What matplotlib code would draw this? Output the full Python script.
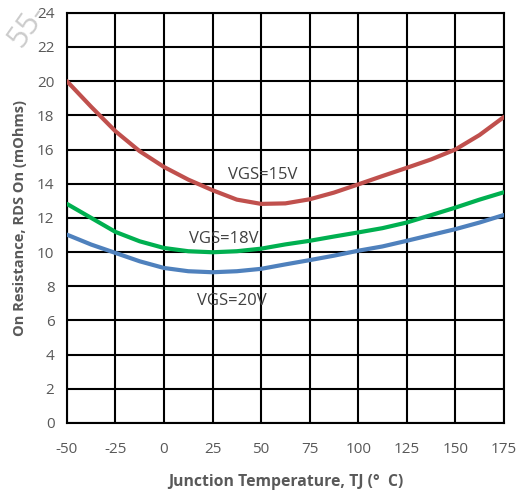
import matplotlib.pyplot as plt

# Junction temperature (deg C) and on-resistance (mOhm) per gate drive
temp = [-50, -37.5, -25, -12.5, 0, 12.5, 25, 37.5, 50, 62.5, 75, 87.5,
        100, 112.5, 125, 137.5, 150, 162.5, 175]
rds_15v = [20.0, 18.5, 17.07, 15.9, 14.98, 14.24, 13.62, 13.07, 12.82, 12.85,
           13.09, 13.48, 13.96, 14.45, 14.93, 15.42, 16.0, 16.85, 17.9]
rds_18v = [12.82, 12.0, 11.18, 10.63, 10.24, 10.05, 9.99, 10.05, 10.2, 10.45,
           10.66, 10.91, 11.15, 11.4, 11.73, 12.16, 12.6, 13.07, 13.5]
rds_20v = [11.02, 10.44, 9.95, 9.46, 9.07, 8.88, 8.82, 8.88, 9.02, 9.28,
           9.53, 9.79, 10.08, 10.33, 10.66, 11.0, 11.34, 11.73, 12.17]

series_labels = ["VGS=15V", "VGS=18V", "VGS=20V"]
label_pos = [(51, 14.5), (31, 10.75), (35, 7.15)]
colors = ["#C0504D", "#00B050", "#4F81BD"]

x_ticks = list(range(-50, 176, 25))
y_ticks = list(range(0, 25, 2))

grey = "#595959"
plt.rcParams['font.family'] = ['Open Sans', 'DejaVu Sans']
plt.rcParams['axes.unicode_minus'] = False

fig = plt.figure(figsize=(5.27, 4.93), dpi=100)
ax = fig.add_axes([0.127, 0.142, 0.829, 0.832])

for rds, c in zip([rds_15v, rds_18v, rds_20v], colors):
    ax.plot(temp, rds, color=c, lw=3.0, solid_capstyle='round',
            solid_joinstyle='round', zorder=3)

for text, (tx, ty) in zip(series_labels, label_pos):
    ax.text(tx, ty, text, ha='center', va='center', fontsize=12,
            color='#404040', zorder=4)

ax.set_xlim(-50, 175)
ax.set_ylim(0, 24)
ax.set_xticks(x_ticks)
ax.set_yticks(y_ticks)
ax.grid(True, color='black', lw=1.5, zorder=1)
ax.set_axisbelow(True)
for sp in ax.spines.values():
    sp.set_linewidth(1.5)
ax.tick_params(length=0, labelsize=11, labelcolor=grey)
ax.tick_params(axis='x', pad=14)
ax.tick_params(axis='y', pad=9)

ax.set_xlabel("Junction Temperature, TJ (°  C)", fontsize=11.3,
              fontweight='bold', color=grey, labelpad=12)
ax.set_ylabel("On Resistance, RDS On (mOhms)", fontsize=10.5,
              fontweight='bold', color=grey, labelpad=7)

# faint watermark in the corner
fig.text(0.052, 0.948, "55-", rotation=55, rotation_mode='anchor',
         fontsize=22, color='#cccccc', ha='center', va='center', zorder=0)

fig.savefig("out.png", dpi=100)
